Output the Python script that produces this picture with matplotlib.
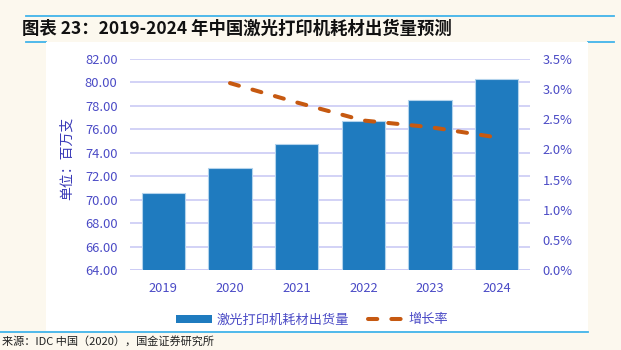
import matplotlib
matplotlib.use('Agg')
import matplotlib.pyplot as plt
from matplotlib.patches import Rectangle
from matplotlib.lines import Line2D
from matplotlib.ticker import FuncFormatter, MultipleLocator

plt.rcParams['font.family'] = ['Noto Sans CJK SC', 'DejaVu Sans']

# data
years = ['2019', '2020', '2021', '2022', '2023', '2024']
shipments = [70.55, 72.74, 74.75, 76.68, 78.46, 80.28]   # 百万支
growth_years = ['2020', '2021', '2022', '2023', '2024']
growth = [0.0310, 0.0278, 0.0248, 0.0237, 0.0220]

title = '图表 23：2019-2024 年中国激光打印机耗材出货量预测'
source = '来源：IDC 中国（2020），国金证券研究所'

bg = '#fcf8ee'
tick_c = '#4b4bc6'
grid_c = '#cbcbf5'
bar_c = '#1f7bbf'
line_c = '#c65911'
rule_c = '#41b4ea'
line_w = 2.9
dash = (2.3, 3.5)

fig = plt.figure(figsize=(6.21, 3.5), dpi=100, facecolor=bg)

# blue rules; the one under the title only shows either side of the panel
for y, x0, x1 in [(16, 26, 614), (42, 26, 46), (42, 588, 614), (332, 0, 588)]:
    fig.add_artist(Line2D([x0 / 621, x1 / 621], [1 - y / 350] * 2,
                          transform=fig.transFigure, color=rule_c, lw=1.3,
                          zorder=-2))
# white panel behind the chart
fig.add_artist(Rectangle((46 / 621, 1 - 331 / 350), 542 / 621, 289 / 350,
                         transform=fig.transFigure, facecolor='white',
                         edgecolor='none', zorder=-1))

fig.text(22 / 621, 1 - 29 / 350, title, fontsize=12.5, fontweight='bold',
         va='center', ha='left', color='#111111')
fig.text(2 / 621, 1 - 341 / 350, source, fontsize=8, va='center', ha='left',
         color='#222222')

ax1 = fig.add_axes([130 / 621, 1 - 270 / 350, 400 / 621, 211 / 350])
ax1.set_zorder(1)
ax1.set_facecolor('none')
x = list(range(len(years)))
ax1.bar(x, shipments, width=0.65, color=bar_c, edgecolor='#b3d3ec', lw=0.8,
        zorder=2)
ax1.set_xlim(-0.5, len(years) - 0.5)
ax1.set_ylim(64, 82)
ax1.yaxis.set_major_locator(MultipleLocator(2))
ax1.yaxis.set_major_formatter(FuncFormatter(lambda v, p: '%.2f' % v))
ax1.set_xticks(x)
ax1.set_xticklabels(years)
ax1.grid(axis='y', color=grid_c, lw=1.2, zorder=0)
ax1.set_axisbelow(True)
for s in ax1.spines.values():
    s.set_visible(False)
ax1.tick_params(axis='y', length=0, pad=9, labelsize=9.3, labelcolor=tick_c)
ax1.tick_params(axis='x', length=0, pad=9, labelsize=9.3, labelcolor=tick_c)
ax1.axhline(64, color=grid_c, lw=1.2, zorder=1)

ax2 = ax1.twinx()
ax2.set_zorder(2)
gx = [years.index(g) for g in growth_years]
ax2.plot(gx, growth, color=line_c, lw=line_w, dashes=dash,
         dash_capstyle='round', zorder=3)
ax2.set_ylim(0, 0.035)
ax2.yaxis.set_major_locator(MultipleLocator(0.005))
ax2.yaxis.set_major_formatter(FuncFormatter(lambda v, p: '%.1f%%' % (v * 100)))
for s in ax2.spines.values():
    s.set_visible(False)
ax2.tick_params(axis='y', length=0, pad=9, labelsize=9.3, labelcolor=tick_c)

fig.text(67 / 621, 1 - 158 / 350, '单位：百万支', rotation=90, fontsize=10,
         color='#3a3ab8', ha='center', va='center')

handles = [Rectangle((0, 0), 1, 1, facecolor=bar_c, edgecolor='none'),
           Line2D([], [], color=line_c, lw=line_w, dashes=dash,
                  dash_capstyle='round')]
leg = fig.legend(handles, ['激光打印机耗材出货量', '增长率'],
                 loc='center', bbox_to_anchor=(312 / 621, 1 - 320 / 350),
                 ncol=2, frameon=False, fontsize=9.5, handlelength=2.75,
                 handleheight=0.6, columnspacing=1.4, handletextpad=0.35)
for t in leg.get_texts():
    t.set_color(tick_c)

fig.savefig('out.png', dpi=100, facecolor=bg)
